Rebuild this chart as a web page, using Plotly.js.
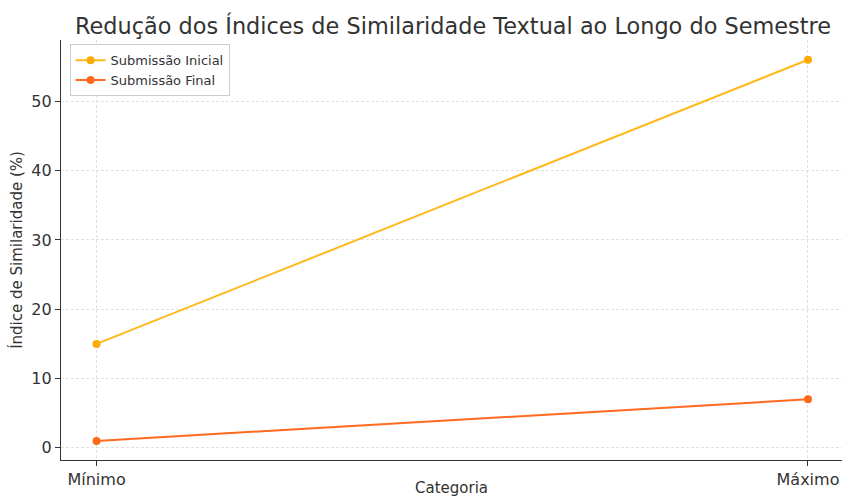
<!DOCTYPE html>
<html>
<head>
<meta charset="utf-8">
<script src="https://cdn.plot.ly/plotly-3.0.1.min.js"></script>
<style>html,body{margin:0;padding:0;background:#fff;}#chart{width:842px;height:497px;}</style>
</head>
<body>
<div id="chart"></div>
<script>
const categories = ["Mínimo", "Máximo"];
const inicial = [15, 56];
const final = [1, 7];
const seriesNames = ["Submissão Inicial", "Submissão Final"];

const traces = [
  {x: [0, 1], y: inicial, name: seriesNames[0], mode: "lines+markers",
   line: {color: "#FFB81C", width: 2}, marker: {color: "#FFAA00", size: 8}},
  {x: [0, 1], y: final, name: seriesNames[1], mode: "lines+markers",
   line: {color: "#FF6A1F", width: 2}, marker: {color: "#FF6A1A", size: 8}}
];

const layout = {
  width: 842, height: 497,
  margin: {l: 61, r: 0, t: 40, b: 37},
  paper_bgcolor: "#fff", plot_bgcolor: "#fff",
  font: {family: "DejaVu Sans, sans-serif", color: "#333"},
  title: {text: "Redução dos Índices de Similaridade Textual ao Longo do Semestre",
          font: {size: 22.4, color: "#333"}, x: 0.538, xanchor: "center", y: 0.948, yanchor: "middle"},
  xaxis: {
    tickmode: "array", tickvals: [0, 1], ticktext: categories,
    range: [-0.05, 1.0478], showgrid: true, gridcolor: "#e0e0e0", griddash: "3px,2px", gridwidth: 1,
    showline: true, linecolor: "#333", linewidth: 1.2, ticks: "outside", ticklen: 5, tickcolor: "#333",
    tickfont: {size: 16, color: "#333"}, zeroline: false,
    title: {text: "Categoria", font: {size: 15, color: "#333"}, standoff: 11}
  },
  yaxis: {
    range: [-1.75, 58.85], tickvals: [0, 10, 20, 30, 40, 50],
    showgrid: true, gridcolor: "#e0e0e0", griddash: "3px,2px", gridwidth: 1,
    showline: true, linecolor: "#333", linewidth: 1.2, ticks: "outside", ticklen: 5, tickcolor: "#333",
    tickfont: {size: 16, color: "#333"}, zeroline: false,
    title: {text: "Índice de Similaridade (%)", font: {size: 15, color: "#333"}, standoff: 5}
  },
  legend: {x: 0.011, y: 0.99, xanchor: "left", yanchor: "top",
           bgcolor: "rgba(255,255,255,0.9)", bordercolor: "#ccc", borderwidth: 1,
           font: {size: 13, color: "#333"}, tracegroupgap: 0, itemwidth: 30},
  showlegend: true
};

Plotly.newPlot("chart", traces, layout, {staticPlot: true, displayModeBar: false});
</script>
</body>
</html>
